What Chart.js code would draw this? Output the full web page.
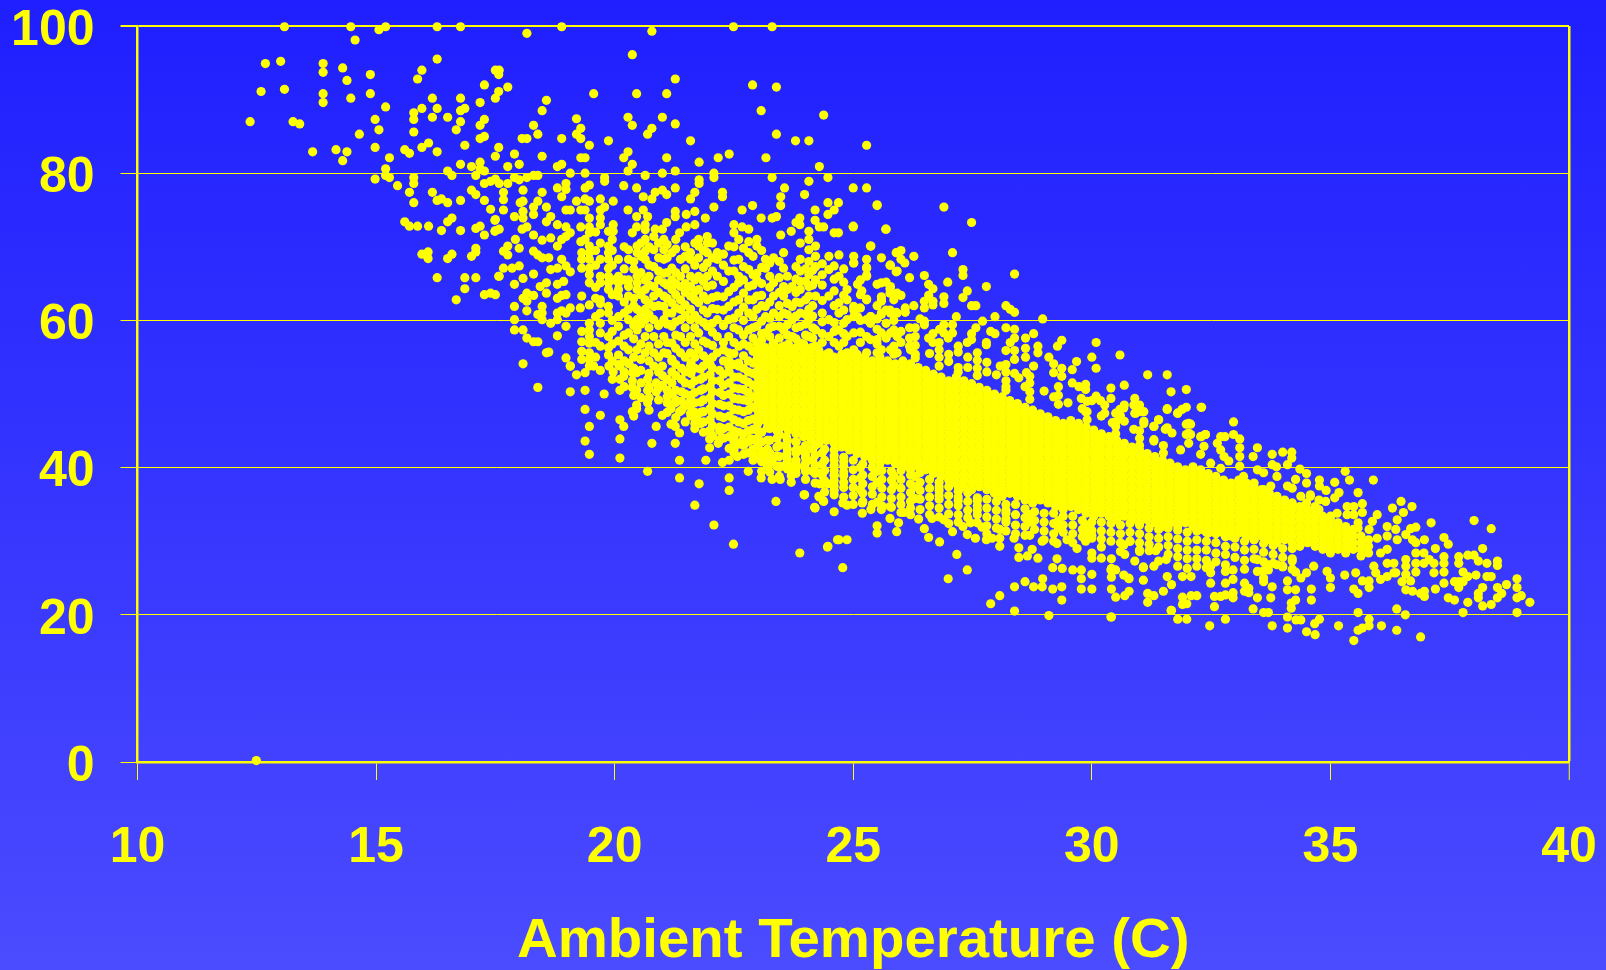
<!DOCTYPE html>
<html>
<head>
<meta charset="utf-8">
<title>Humidity vs ambient temperature</title>
<script src="https://cdn.jsdelivr.net/npm/chart.js@4/dist/chart.umd.min.js"></script>
<style>
  html, body { margin: 0; padding: 0; width: 1606px; height: 970px; overflow: hidden; background: linear-gradient(#1f1fff, #4b4bff); }
  canvas { display: block; }
</style>
</head>
<body>
<canvas id="chart" width="1606" height="970"></canvas>
<script>
const axisTitle = 'Ambient Temperature (C)';
const tempTicks = [10, 15, 20, 25, 30, 35, 40];
const humidityTicks = [0, 20, 40, 60, 80, 100];

// [temp, humidity] read one by one where the dots stand alone
const outlier = [[12.49, 0.2]];

const leftCloud = [
  [13.08,99.9],[14.47,99.9],[15.06,99.5],[15.2,99.9],[16.28,99.9],[16.77,99.9],[14.56,98.1],[12.68,94.9],[13,95.2],[13.89,94.9],[13.89,93.7],[14.3,94.3],
  [14.39,92.6],[14.88,93.4],[15.96,94],[15.87,92.8],[16.28,95.5],[12.59,91.1],[13.08,91.4],[13.89,90.8],[13.89,89.6],[14.47,90.2],[14.88,90.8],[15.2,89],
  [15.79,88.2],[15.79,87.3],[15.96,88.8],[16.18,90.2],[16.28,88.8],[16.18,87.6],[16.5,87.6],[16.77,90.2],[16.77,88.5],[16.86,88.8],[16.77,87],[16.68,85.9],
  [17.18,89.6],[17.27,92],[17.5,94],[17.57,93.4],[17.57,91.1],[17.5,90.2],[17.27,87.3],[17.18,86.5],[17.27,85],[17.18,84.7],[12.36,87],[13.26,87],[13.4,86.7],
  [14.98,87.3],[15.06,85.9],[14.65,85.3],[15.79,85.6],[13.67,82.9],[14.16,83.2],[14.39,82.9],[14.3,81.7],[14.98,83.5],[15.6,83.2],[15.7,82.7],[15.96,83.5],
  [16.1,84.1],[16.28,82.9],[16.86,83.8],[15.28,82.1],[15.2,80.6],[15.2,79.7],[15.28,79.4],[14.98,79.2],[16.77,81.2],[17,80.9],[17.18,81.5],[17.18,80.6],
  [17.27,80.3],[17.5,82.3],[17.57,83.5],[16.5,80.3],[16.59,79.7],[17.09,79.7],[15.79,79.4],[15.79,78.6],[15.45,78.3],[15.7,77.4],[16.18,77.4],[16.28,76.3],
  [16.37,76.5],[16.5,76],[15.79,76],[16.77,76.3],[17,77.7],[17.09,77.1],[17.27,78.6],[17.4,78.9],[17.5,79.2],[17.27,76.3],[17.4,75.1],[15.6,73.4],[15.7,72.8],
  [15.87,72.8],[16.1,72.8],[16.37,72.2],[16.5,73.4],[16.59,73.9],[16.77,72.2],[17.09,72.5],[17.18,72.8],[17.27,71.6],[17.5,73.7],[17.5,72.2],[15.96,69],
  [16.09,69.3],[16.09,68.4],[16.5,68.4],[16.59,69],[17,68.7],[17.09,69.8],[17.09,69.3],[16.28,65.8],[16.86,65.8],[17.09,65.8],[17.57,66],[16.86,64.3],
  [17.27,63.5],[17.4,63.7],[17.5,63.5],[16.68,62.8]
];

const upperEdge = [
  [18.89,99.9],[18.16,99],[20.78,99.3],[22.49,99.9],[23.3,99.9],[20.37,96.1],[17.58,94],[19.56,90.8],[20.46,90.8],[21.09,90.8],[21.27,92.8],[22.89,92],
  [23.39,91.7],[17.76,91.7],[18.57,89.9],[18.48,88.5],[17.9,82.6],[18.48,82.3],[18.3,86.5],[18.39,85.3],[18.06,84.7],[18.16,84.7],[18.89,84.7],[19.2,87.4],
  [19.29,86.1],[19.2,85.3],[19.29,84.7],[19.47,83.8],[19.87,84.4],[20.28,87.6],[20.37,86.5],[21,87.6],[21.27,86.7],[20.78,86.1],[20.69,85.3],[21.59,84.4],
  [23.07,88.5],[24.38,87.9],[23.39,85.3],[23.79,84.4],[24.07,84.4],[25.28,83.8],[20.28,82.9],[20.19,82.1],[19.29,82.1],[19.38,82.1],[21.09,82.1],[20.37,81.2],
  [20.28,80.3],[21.77,81.5],[22.17,82.1],[22.4,82.6],[23.17,82.1],[24.29,80.9],[18,81.2],[17.76,80.9],[18.8,80.9],[18.89,81.2],[17.9,79.4],[18,79.1],
  [18.16,79.4],[18.3,79.7],[18.39,79.7],[19.07,80],[19.38,80],[19.79,79.4],[19.79,78.9],[20.64,79.7],[21,80],[21.27,80.3],[22.08,80],[22.08,79.4],[23.3,79.4],
  [24.47,79.4],[17.58,78.6],[17.76,78.6],[18.8,78],[18.98,78.6],[18.98,77.8],[19.38,78],[19.47,78.4],[20.19,78.3],[20.46,78],[21.27,78],[21.77,79.1],[21.77,78.6],
  [24.07,78.9],[23.56,78],[25,78],[25.28,78],[18.08,77.7],[18.48,77.4],[17.67,77.4],[17.67,76.4],[17.67,75],[18.89,76.8],[20.6,76.8],[20.85,77.4],[21,77.7],
  [21.09,77.1],[20.78,76.5],[21.68,77.4],[21.59,76.5],[22.26,77.4],[22.26,76.8],[23.48,76.8],[23.48,75.6],[23.98,77.1],[18.02,76],[18.08,76.2],[18.39,76.2],
  [18.3,75.4],[18.3,74.4],[18.57,75.4],[19.2,76.2],[19.38,76.5],[19.47,76.2],[19.7,76.5],[19.97,76.2],[18.98,75],[19.07,75],[19.29,75],[19.38,75],[19.7,75],
  [19.79,75.4],[20.28,75],[20.6,75],[21.27,74.8],[21.27,74.1],[21.5,74.4],[21.68,74.8],[22.08,75.4],[22.67,75],[22.89,75.6],[24.47,76],[24.69,76],[24.47,74.4],
  [24.6,75],[24.2,75],[25.5,75.6],[17.9,74.1],[18.08,74.8],[18.08,73.9],[18.66,74.1],[18.57,73.4],[19.47,73.9],[19.7,73.9],[19.7,73],[20.46,74.1],[20.69,74.1],
  [23.07,73.9],[23.3,73.9],[23.39,74.1],[21.9,73.9],[23.8,73.3],[23.88,73.9],[23.88,73],[24.2,73.6],[24.29,72.7],[24.38,72.7],[25,72.7],[24.6,71.9],[24.69,71.9],
  [25.68,72.4],[17.49,73.6],[17.49,72.1],[17.58,72.4],[18.06,72.4],[18.16,72.7],[18.3,71.6],[18.8,73],[18.98,72.7],[19.07,71.9],[18.98,71.4],[18.89,71],
  [19.29,72.7],[19.47,72.7],[19.47,71.9],[19.38,71],[19.29,70.7],[19.87,72.1],[19.97,73],[19.97,72.1],[20.37,71.9],[20.46,72.7],[20.64,73],[20.85,72.4],[21,72.4],
  [21.09,73.3],[21.36,71.9],[21.5,72.7],[21.68,73],[22.5,73],[22.5,71.9],[22.67,72.7],[22.81,72.4],[23.48,71.6],[23.7,72.1],[24.07,72.1],[24.07,71],
  [17.92,71],[18,69.8],[17.76,70.1],[17.67,69.4],[17.76,68.9],[18.3,69.4],[18.39,68.9],[18.48,68.5],[18.62,68.5],[18.48,70.9],[18.66,71.2],[18.8,70.1],
  [17.67,67.1],[17.85,67.1],[18,67.4],[17.58,66],[18.08,65.7],[18.3,66.3],[17.9,64.9],[18.89,68.3],[18.98,67.4],[18.8,67.1],[18.66,66.9],[19.07,66.6],[18.93,65.3],
  [18.8,64.9],[18.57,65.1],[18.44,64.6],[18.3,63.4],[18.16,63.7],[18.08,63],[18.16,62.6],[18.8,63],[18.89,63.4],[18.98,63.5],[18.57,63.7],[17.9,61.9],[18.16,61.3],
  [18.48,61.9],[18.48,61],[18.39,60.8],[18.48,60.1],[18.8,61],[18.89,61.3],[18.98,61],[18.8,60.1],[18.98,59.2],[19.07,61.7],[19.28,61.7],[17.9,60.1],[17.9,58.7],
  [18.08,58.7],[18.16,57.6],[18.3,57.1],[18.39,57.1],[18.66,59.6],[18.8,57.9],[18.62,55.7],[18.57,55.6],[18.98,54.9],[18.08,54.1],[19.07,53.8]
];

// columns where the dots stack up: [temp, humidity, humidity, ...]
const upperColumns = [
  [19.31,69.2,68.3,67.1,63.3,58.5,57.1,55.8,54.7],[19.47,70.1,69.2,68.3,67.1,66.2,65.1,62.1,59.6,58.7,57.8,56.9,55.6,54.7,53.8],
  [19.7,70.5,68.3,66,65.1,62.8,62.3,61,59.6,58.3,56.5],[19.87,70.1,69.2,68.3,67.1,66,65.1,64.2,61.9,61,57.8,56.3,55.3],[20.08,68.3,66,65.1,64.2,63.3,60.5,59.2,57.2,55.3,54],
  [20.29,69.6,68.3,65.5,64.6,63.3,61.5,60.1,58.3,56,54.2],[20.47,70.1,69.2,66,65.1,64.2,61.5,60.1,58.7,56],[20.64,72.3,71,69.4,68.3,65.5,64.2,62.8,61.5,60.1,57.8,55.6],
  [20.82,71.4,69.6,67.3,64.6,63.3,61.9,60.1,57.8,55.6,53.8],[21.03,71,69.6,68.3,66.4,65.1,63.3,61.9,60.1,57.8,55.6],[21.2,69.2,67.1,65.5,64.2,62.4,61,59.2,56.9,54.7],
  [21.38,68.3,66,64.6,62.8,61.5,60.1,57.8,55.6],[21.59,69.2,68.3,66,64.6,63.3,61.5,60.1,57.8,55.6,53.8],[21.76,71,70.1,68.5,66,64.2,62.4,60.1,58.3,56],
  [21.94,71.4,70.5,69.2,67.8,66,64.6,62.8,61,59.2,56.9,54.7],[22.15,69.2,68.3,66,63.3,61.5,60.1,57.8,55.6],[22.39,70.1,66.7,63.9,61.9,60.1,57.8,55.6,53.8],
  [22.6,71,68.3,66,65.1,62.8,61,58.7,56.5,54.2],[22.81,70.7,69.2,66.9,64.6,62.8,61,58.7,56.5],[22.98,71,70.1,66.4,65.5,63.3,61.5,59.2,56.9,54.7],[23.16,68.3,67.1,61.9,60.5,58.3,56],
  [23.33,68.5,65.1,63.3,61,59.2,56.9,54.7],[23.54,69.2,67.1,64.6,63.3,61,58.7,56.5],[23.72,64.6,61.9,60.1,57.8,55.6],[23.89,70.5,68.3,66.7,65.3,64.2,62.4,61,59.2,56.9,54.7],
  [24.07,69.6,68,66.2,64.6,63.3,61.5,60.1,57.8,55.6],[24.21,70.1,68.7,67.3,65.5,63.3,58.7,56.5],[24.49,68.7,66.9,63.3,60.1,57.8,55.6],[24.7,68.9,66,62.4,61,58.7,56.5],
  [24.87,64.2,62.8,60.1,57.8,55.6],[25.01,68.7,67.8,61.9,60.5,58.3,56],[25.28,68.3,67.1,66,62.8,60.1,57.8,55.6],[25.36,70.1,60.5,59.6,57.4],[25.59,68.5,65.1,62.8,61,58.3,56],
  [25.78,67.5,64.6,61,58.3,56],[25.92,69.2,66.7,63.7,61,57.8,55.6]
];

// second pass over the crowded middle and the rim of the solid band
const midColumns = [
  [19.6,72,69.5,67.5,64.5,63,60.5,57,55],[19.95,71,69.5,67.5,65.5,63.5,60,58.5,56.8,54.5,52],[20.2,70,67,65.5,62.5,61,58,56.5,54.5,53,51],[20.4,68,67,63,62,59.3,57.5,55,53.5,49.8,47],
  [20.55,70.5,68.7,66.5,63.5,61,59.5,56.8,54.7,53.2,51.5,49.5],[20.72,70,67.5,66,64.8,62.3,60.8,59,56.5,54.5,52.8,51,49.5,47.8],[20.92,70.5,68.5,66.7,65.5,63.8,62,59.3,56.8,55,53,50.8,49.2],
  [21.1,70.3,68.5,66.5,64.8,63,61,59.5,57,55.5,52,49.6,47.5],[21.28,71,69.7,66.5,65,63.5,61.7,59.8,58,56.2,54,52.5,50.5,49.2,46.8],[21.48,70,68.7,67,65,63.8,62.1,60.7,59,57,55,53,51.5,50,48.4,46.2],
  [21.68,70.5,67.5,65.5,63.9,62.8,60.7,59,56.8,55,53.5,51.8,50.2,48.8,47.5,46],[21.86,69.5,67.2,65.3,63.3,61.4,59.7,57.2,55.2,53.8,52.3,50.7,49.2,47.6,46.2,44.8],
  [22.05,70.5,68.5,66.7,64.8,63.1,61.6,59.6,58.4,56.6,55,53.5,51.8,50.3,48.7,47.3,45.7,44.3],[22.28,69,67.5,65.3,63.2,61.4,59.3,57,56,54.5,52.7,51.2,49.8,48.4,46.8,45.3,44],
  [22.5,70,68.2,66.7,64.5,62.5,60.3,59,57,55.5,54,52.3,50.8,49.4,47.9,46.5,45,43.5,42],[22.7,69.8,67.3,65.5,63.7,61.8,60,58,56.8,55.2,53.5,52,50.6,49.2,47.6,46,44.6,43,41.8],
  [22.9,68.7,66.2,64.8,62.8,60.5,59,57.6,55.8,54.2,52.8,51.2,49.6,48.2,46.6,45.2,43.8,42.5,41],[23.08,69.5,67.2,65,63.4,62,59.9,58.2,57.3,44.8,43.5,42.2,40.8,39.5],
  [23.25,67.8,66,64.5,62.5,60.3,59,57.8,45.3,43.7,42,40.7,39.4],[23.45,68,65.8,63.8,62,60.5,59.2,57.6,44.5,43,41.5,40,38.8],[23.62,66,64.2,62.3,60.8,59.4,58,43.7,42.5,41.1,39.8],
  [23.8,67.3,65.6,63.8,62.5,60.6,59,57.5,43.5,42,40.5,39.2],[24,67,65.3,62.8,60.8,59.5,58,42.8,41.3,39.8],[24.15,66.8,64.8,62,60.6,59,57.6,42.5,41,39.5],
  [24.35,67.7,66.2,64.8,62.7,61,59.8,58.2,57,42,40.5,39,37.8],[24.6,67.4,65.6,64,62,59.7,58.5,57,41,39.6,38.2],[24.8,67,65.2,63.4,61.4,59.6,58.2,57,40.8,39.4,38],
  [25.15,65.5,63.5,61.7,60,58.4,57,40,38.6,37],[25.5,62,60.2,56.8,55.6,39.5,38],[25.85,62.8,60,58.7,56.5,55.4,38.9,37.6],[26.3,59,57.8,56.6,55.4,54.9,38.8,37.4,35.8],
  [26.8,57,56,55,53.8,37.4,36.2],[27.2,56.5,55.7,53.6,53,36.8,35.5],[27.6,55.6,54.6,53.5,52.5,35.5,34.2],[28.2,54,53,51,50.5,34.2,33],[28.7,51.5,50.3,49.3,33.6,32.6],
  [29.3,51,49.8,48.6,32.8,31.8],[29.9,49,47.6,46.5,32.2,31],[30.5,47.4,45.6,44.6],[31,45,44,43],[31.5,43,42]
];

const upperRight = [
  [25.5,75.7],[26.9,75.4],[27.48,73.3],[25.69,72.4],[25,72.8],[25.37,70.1],[25.9,69.2],[26,69.5],[26,68.3],[26.08,67.8],[26.27,68.7],[27.08,69.2],[25.01,67.8],
  [25.77,67.5],[25.9,66.6],[25.28,67.2],[25.28,66.1],[27.3,66.9],[27.3,66.1],[28.38,66.3],[26.18,65.8],[26.49,66.1],[26.98,65.2],[26.58,64.9],[26.67,64.3],[27.79,64.6],
  [25.09,64.9],[25.18,64],[25.28,62.9],[25.5,64.9],[25.69,65.2],[25.77,64.3],[25.77,63.7],[25.59,63.2],[25.59,62.6],[26,63.4],[26.58,63.4],[26.49,62.6],[26.49,61.7],
  [26.67,62.6],[26.67,62.1],[26.9,63.2],[26.9,62.3],[27.39,64],[27.3,63.1],[27.48,62],[27.57,62],[26.27,62],[26.09,61.7],[26.09,61.1],[28.2,62],[28.29,61.5],[28.38,61.1],
  [28.97,60.2],[27.97,60.5],[27.71,59.9],[27.16,60.5],[25.01,61.4],[25.09,60.5],[25.37,60.5],[25.37,59.9],[25.59,60.8],[25.69,61.4],[25.77,61.4],[25.9,61.1],[25.69,59.6],
  [26.4,60.2],[26.49,59.9],[26.49,59.4],[26.18,59],[27.08,59.4],[26.9,59.4],[26.81,58.8],[27.08,58.3],[26.99,57.6],[26.9,58.3],[27.57,59],[27.48,58.2],[27.39,57],[27.48,57.4],
  [26.67,58.2],[26.58,57.6],[26.67,57],[25.9,58.2],[26,58.5],[26,57],[26.18,57.6],[26.18,56.5],[25.5,58.8],[25.5,57.4],[25.69,57.6],[27.79,57],[27.79,56.7],[27.88,58.5],[27.97,58.2],
  [28.2,59],[28.38,58.8],[28.38,57.6],[28.29,57],[28.2,55.9],[28.38,55.9],[28.38,54.7],[28.61,57.6],[28.61,56.2],[28.61,55],[28.78,58.2],[28.87,56.5],[28.87,55.6],[29.28,56.5],
  [29.37,57.3],[30.09,57],[29.1,55],[29.2,54.1],[29.2,52.9],[30,55],[30.09,53.5],[30.59,55.3],[29.68,54.4],[29.37,53.5],[29.37,52.4],[29.59,53.3],[28.78,53.8],[28.63,52.9],
  [28.7,52.4],[28.38,52.8],[28.47,52.2],[28.2,51.8],[28.08,53.8],[31.17,52.6],[31.58,52.6],[30.68,51.2],[31.66,50.3],[31.98,50.6],[29.59,51.5],[29.73,51],[29.87,51.3],[29.87,50.6],
  [30.4,50.8],[30.4,49.4],[29.78,49.4],[30,49.1],[30.09,49.7],[30.18,49.1],[30.27,48.5],[30.9,49.4],[31,48.5],[30.9,47.4],[31.09,47.6],[31.09,46.3],[30.68,48.5],[30.59,47.9],
  [30.68,46.3],[31.58,47.9],[31.8,47.4],[31.89,47.9],[31.98,48.2],[32.29,48.2],[29.87,47.6],[30.27,47.4],[31.4,46.5],[31.3,45.6],[31.58,45.4],[31.3,43.6],[31.98,45.9],[32.07,45.9],
  [31.98,44.5],[32.07,44.5],[32.97,46.2],[32.97,44.5],[33.1,43.9],[32.29,44.2],[32.38,44.5],[32.7,44.2],[32.79,44.2],[26.2,56],[26.6,55.5],[27,55.4],[27,54.4],[27.4,55],[27.4,53.6],
  [27.8,54.3],[27.8,53],[28,52.6],[28.6,51],[29,50.4],[29.2,49.6],[29.5,48.8],[29.8,48],[30.2,47],[30.5,46.2]
];

const lowerLeft = [
  [18.39,50.9],[19.07,53.8],[19.2,52.6],[19.38,52.9],[19.07,50.3],[19.38,50.5],[19.78,50],[20.11,50.5],[19.38,47.9],[19.7,47.1],[20.11,46.5],[20.19,45.6],[19.47,45.6],[19.38,43.6],
  [20.11,43.9],[19.47,41.8],[20.11,41.3],[20.78,43.3],[21.27,43.3],[20.87,45.6],[20.69,39.5],[21.36,41],[21.36,38.6],[21.77,37.8],[21.91,41],[22.26,40.7],[22.4,41],[22.57,41.5],
  [22.5,42.4],[22.4,38.6],[22.4,36.9],[22.8,39.5],[21.68,34.9],[22.08,32.2],[22.49,29.6],[23.38,35.4],[23.07,38.6],[23.3,38.4],[23.47,38.4],[23.7,38],[23.97,36.3],[24.29,36],
  [24.38,35.4],[24.2,34.5],[24.6,36.9],[24.6,34],[23.88,28.4],[24.47,29.3],[24.67,30.2],[24.29,37.8],[24.38,38],[24.47,37.8],[19.56,53.8],[19.7,53.2],[19.88,53.8],[19.97,53],
  [20.11,53.8],[20.3,54.1],[20.11,52],[20.19,52.4],[20.37,51.8],[20.37,52.9],[20.46,52.9],[20.37,50.9],[20.46,50.5],[20.69,52],[20.87,51.5],[20.69,50.5],[20.87,50.3],[20.46,48.5],
  [20.37,47.6],[20.46,48],[20.69,48.8],[21,47.1],[21.18,45.9],[21.27,45.6],[21.36,44.7],[21.1,50.5],[21.1,48.8],[21.18,48],[21.36,47.6],[21.27,48.8],[21.59,49.1],[21.59,47.4],
  [21.73,46.5],[21.68,45.3],[21.99,43.9],[21.99,42.7],[22.17,43.3],[21.99,45],[22.2,45],[22.5,44.2],[22.67,43.6],[22.85,43.9],[22.9,41.8],[23.09,41.5],[23.3,41],[23.47,40.2],
  [23.7,40.2],[23.79,39.3],[23.7,38.9],[23.61,41.8],[23.88,42.4],[23.97,40.2],[24.29,39.3],[24.6,38.9]
];

const leftColumns = [
  [21,53.8,52.5,51.2],[21.2,54.5,53,51.5,50],[21.4,53.5,52,50.3,49,47.8],[21.6,54.2,52.8,51.3,49.8,48.5,47],[21.8,53.4,52,50.5,48.9,47.5,46],[22,54,52.6,51,49.5,48,46.5,45],
  [22.2,53.2,51.8,50.2,48.6,47,45.5,43.8],[22.4,54.5,53,51.5,50,48.4,47,45.5,44.2,42.6],[22.6,53.8,52.3,50.7,49.3,47.8,46.2,44.8,43.2],[22.8,54.5,53,51.6,50.2,49,47.8,46.4,45,43.5,42]
];

const lowerEdge = [
  [23.98,36.3],[24.28,36.1],[24.37,35.5],[24.19,34.6],[24.78,35.2],[24.87,34.9],[25.19,35.2],[25.19,33.8],[25.37,34.3],[25.5,35.3],[25.59,34.3],[25.77,34.7],[25.77,33.1],[25.95,32.5],
  [25.91,31.3],[25.5,32.1],[25.5,31.1],[24.7,30.2],[24.87,30.2],[24.46,29.2],[24.78,26.4],[26.49,31.7],[26.58,30.5],[26.81,29.9],[27.17,28.2],[27.39,26.1],[26.99,24.9],[26.37,33],
  [26.2,33.6],[26.06,33.9],[26.65,33.1],[26.9,32.9],[27.08,31.3],[27.3,32],[27.46,32.5],[27.39,30.9],[27.56,30.4],[27.7,31.9],[27.79,30.2],[27.91,30.4],[28.07,31.6],[28.07,30.4],
  [28.07,29.3],[28.37,30.4],[28.47,29.1],[28.47,27.8],[28.7,30.8],[28.65,28],[28.87,27.7],[28.96,30],[28.75,28.9],[29.27,29.7],[29.27,27.6],[29.18,26.4],[29.38,26.3],[29.48,30.2],
  [29.69,29],[29.87,30],[30,30.8],[29.6,26.1],[29.78,26.1],[29.78,24.9],[30,25.5],[29.78,23.5],[30,23.5],[28.6,24.5],[28.97,24.9],[28.78,23.8],[28.96,23.8],[29.18,23.5],[29.37,23.8],
  [28.38,23.8],[28.07,22.6],[27.88,21.5],[28.38,20.5],[29.1,19.9],[29.37,22],[30.41,19.7],[30,28.4],[30,27.7],[30.2,27.7],[30.41,27.6],[30.69,28.2],[30.9,27.3],[30.41,26.3],[30.5,26.1],
  [30.41,25.1],[30.67,25.4],[30.78,24.9],[31.08,26.4],[31.08,24.7],[30.41,23.5],[30.5,22.4],[30.69,22.6],[30.78,23.2],[31.17,22.9],[31.17,21.7],[31.3,22.6],[31.5,23.2],[31.67,24.1],
  [31.58,25.2],[31.9,25.2],[32.08,25.2],[31.67,20.6],[31.9,22.4],[31.9,21.4],[31.99,21.5],[31.8,19.4],[31.99,19.4],[32.08,22.6],[32.2,22.6],[31.3,26.6],[31.4,27.3],[31.56,27.5],[31.8,26.6],
  [32,26.3],[31,28.6],[31.2,28.7],[31.34,28.7],[30.67,29.5],[30.8,30]
];

const lowerColumns = [
  [23,45,44,43,41.5],[23.2,45.4,43.7,42.5,41.2,40.3],[23.4,45,44,42.8,41.6,40.2],[23.6,44.2,43,41.7,40.5],[23.8,43.5,42.4,41,39.8],[24,43,41.8,40.6,39.5,38.4],[24.2,43,41.7,40.3,39.2,37.9],
  [24.4,42.5,41,39.6,38.2,36.7],[24.6,41.6,40.3,39,37.5,36.3],[24.8,41.4,40.2,38.9,37.3,36],[25,41,39.7,38.4,37.3,36.2,35],[25.2,40.5,39,37.8,36.5,35.4],[25.4,40,38.8,37.4,36.4,35],
  [25.6,39.6,38.4,37.2,36,34.8],[25.8,39.5,38.3,37,35.8,34.6],[26,39.6,38.4,37.2,36,35,33.9],[26.2,39,37.8,36.6,35.4,34.5],[26.4,39.3,38,36.9,35.7,34.3],[26.6,38.4,37.2,36,34.8,33.6],
  [26.8,38,36.9,35.7,34.5,33.3],[27,37.4,36.2,35,33.7,32.4],[27.2,37.4,36,34.8,33.6,32.6],[27.4,36.6,35.4,34.2,33.2],[27.6,35.9,34.8,33.6,32.5],[27.8,35.7,34.5,33.3,32.1,31],[28,35.4,34.2,33,31.8],
  [28.2,35,33.8,32.6,31.4],[28.4,35,33.6,32.2,31],[28.6,34.4,33.2,32,30.8],[28.8,34,32.8,31.6],[29,33.8,32.6,31.4,30.2],[29.2,33.8,32.4,31,30],[29.4,33.4,32.2,31.2],[29.6,33.4,32.2,31,29.8],
  [29.8,32.8,31.6,30.6],[30,32.6,31.5,30.4],[30.2,32.6,31.4,30.3,29.2],[30.4,32.4,31.2,30],[30.6,32.2,31,29.8,28.6],[30.8,32.4,31.2,30],[31,32.2,31,29.8,28.8],[31.2,31.8,30.6,29.6],[31.4,31.6,30.4,29.2],
  [31.6,31.8,30.6,29.4,28.2],[31.8,31.5,30.3,29,27.9],[32,31.2,30,28.8,27.6],[32.2,31.4,30.2,28.8,27.6,26.6],[32.4,31.2,30,28.8,27.4,26.4],[32.6,31,29.8,28.4,27.2],[32.8,30.6,29.3,28.2,26.8],
  [33,30.4,29.2,27.8],[33.2,30,28.8,27.4,26.2],[33.4,30.2,28.9,27.6],[33.6,29.7,28.5,27.2,26],[33.8,29.4,28.2,27],[34,29,27.8,26.5],[34.2,29,27.6,26.2]
];

const rightTail = [
  [38.01,32.8],[38.37,31.7],[37.11,32.5],[36.48,35.4],[36.3,34.5],[36.71,34.7],[36.53,33.9],[35.9,38.3],[35.31,39.5],[35.4,38.3],[35.09,38],[34.77,38.3],[34.77,37.5],[34.91,36.9],[35.58,36.6],
  [35.18,36.6],[35.09,35.9],[35.67,35.1],[35.67,33.9],[37.38,30.5],[37.47,29.6],[37.2,29],[36.97,30.2],[36.79,31.9],[36.68,31.7],[38.19,29],[37.38,27.9],[37.38,27],[37.38,25.8],[37.69,27.9],[37.69,27],
  [37.88,28.1],[38.01,28.1],[38.1,27.3],[38.28,27],[38.5,27.3],[38.5,26.7],[38.28,25.2],[38.37,25.2],[38.05,25.4],[37.78,25.8],[37.88,25.2],[37.69,24.5],[37.6,24.5],[37.78,24.5],[37.69,23.7],[37.38,24.3],
  [37.2,23.5],[38.91,24.9],[38.91,23.7],[38.69,24.1],[38.5,23.7],[38.59,22.9],[38.5,22.3],[38.19,23.7],[38.1,22.9],[38.1,22.3],[39,22.6],[38.91,22.3],[39.18,21.7],[37.47,22.3],[37.6,22],[37.88,21.7],
  [38.19,21.2],[38.37,21.4],[37.78,20.3],[38.91,20.3],[36.39,20.8],[36.57,20],[35.58,20.3],[35.81,19.4],[35.58,17.9],[35.67,18.2],[35.81,18.5],[35.49,16.5],[36.07,18.5],[36.39,17.9],[36.89,17],[35.17,18.5],
  [34.77,19.4],[34.67,18.8],[34.5,17.7],[34.68,17.3],[34.1,19.7],[34.1,18.2],[33.78,18.5],[34.28,19.3],[34.38,19.3],[33.6,20.3],[33.7,20.3],[33.38,20.8],[33.47,22.3],[33.75,22.3],[32.8,19.4],[32.47,18.5],
  [31.66,20.6],[30.4,19.7],[34.6,22],[34.6,23.5],[35,23.7],[35.49,23.5],[35.58,22.9],[35.81,23.7],[35.67,24.6],[35.81,24.6],[32.3,48.2],[31.8,47.4],[31.58,48],[33.1,42.7],[33.47,42.7],[33.78,41.8],
  [33.38,41.5],[34,42.1],[34.19,42.1],[34.19,41.3],[34.1,40.4],[33.1,41.5],[33.78,40.4],[33.87,40.1],[34.36,39.8],[34.5,39.2],[30.4,26.1],[30.77,25],[31.08,26.5],[32.49,26.6],[32.49,25.7],[32.49,24.3],
  [32.57,22.5],[32.7,22.5],[32.8,22.7],[32.57,21.1],[32.8,25.9],[32.8,24.3],[32.96,26.1],[32.96,24.8],[32.96,23],[32.96,22.3],[33.2,24.3],[33.29,23.6],[33.2,23.2],[33.29,23],[33.47,27.5],[33.47,25.9],
  [33.6,25],[33.6,24.5],[33.78,23.8],[33.7,26.8],[33.7,26.1],[33.88,26.8],[34,26.6],[34.2,27.3],[34.1,24.6],[34.1,23.4],[34.27,23.4],[34.27,25.8],[34.38,25],[34.18,20.9],[34.27,22],[34.18,21.6],[35,25],
  [34.93,25.9],[35.3,25.4],[35.53,25.7],[34.5,25.7],[34.65,26.6],[36.05,24.8],[36.19,25.2],[36.37,25.7],[36.5,24.5],[36.68,24.6],[36.58,23.4],[36.72,23.2],[36.89,22.9],[36.97,23.2],[36.97,22.5],[36.58,27.5],
  [36.58,26.6],[36.58,25.5],[36.79,25.8],[36.79,27],[36.79,28.4],[36.96,28.4],[36.96,27],[37.17,27],[37.17,25.7],[37.07,27.5],[36.05,28.4],[36.19,28.9],[36.33,27],[36.19,27],[36.33,25.7],[35.91,26.6],[35.95,25.7],
  [35.98,30.4],[36.19,32],[36.4,32.9],[36.37,31.6],[36.19,30.7],[36.4,30.2],[36.58,30.9],[36.72,30.2],[36.79,29.8],[35.98,33.6],[35.88,32.7],[35.81,31.6],[35.58,32.5],[35.58,31.8],[35.35,34.7],[35.49,34.7],
  [35.35,33.6],[35.49,33.6],[35.14,33.8],[35,33.4],[34.76,35.6],[34.76,34.3],[34.9,35.4],[34.5,35.2],[34.58,36.1],[33.88,38.8],[34.1,37.5],[34.2,37.2],[34.27,38.4],[34.5,37.9],[34.58,36.3],[34.38,36.1],[33.75,37.5],
  [33.6,37],[33.47,39.7],[33.6,39.3],[33.1,40.2],[33.18,38.8],[33.4,37.9],[32.63,43.3],[32.7,42.4],[32.77,41.5],[32.87,40.9],[32.7,39.9],[32.28,44.2],[32.38,44.5],[32.35,42.9],[32.28,41.8],[32.49,40.6],
  [32.03,46],[32.03,44.7],[32.03,43.3],[31.86,42.4],[31.68,44.7],[31.54,45.2],[31.3,45.6],[31.4,46.5],[31.3,43.8],[30.88,48.5],[30.92,47.4],[31.05,47.6],[30.67,48.1],[30.6,47],[31.09,46],[30.88,45.2],[30.43,46.1]
];

// the solid band, where single dots can no longer be told apart
const coreColumns = [
  [23,46,46.9,47.8,48.7,49.6,50.5,51.4,52.3,53.2,54.1,55,55.9,56.8],
  [23.16,46.4,47.3,48.2,49.1,50,50.9,51.8,52.7,53.6,54.5,55.4,56.3],
  [23.32,46,46.9,47.8,48.7,49.6,50.5,51.4,52.3,53.2,54.1,55,55.9,56.8],
  [23.48,45.5,46.4,47.3,48.2,49.1,50,50.9,51.8,52.7,53.6,54.5,55.4,56.3],
  [23.64,45.1,46,46.9,47.8,48.7,49.6,50.5,51.4,52.3,53.2,54.1,55,55.9,56.8],
  [23.8,44.6,45.5,46.4,47.3,48.2,49.1,50,50.9,51.8,52.7,53.6,54.5,55.4,56.3],
  [23.96,44.2,45.1,46,46.9,47.8,48.7,49.6,50.5,51.4,52.3,53.2,54.1,55,55.9,56.8],
  [24.12,43.7,44.6,45.5,46.4,47.3,48.2,49.1,50,50.9,51.8,52.7,53.6,54.5,55.4,56.3],
  [24.28,43.3,44.2,45.1,46,46.9,47.8,48.7,49.6,50.5,51.4,52.3,53.2,54.1,55,55.9],
  [24.44,43.7,44.6,45.5,46.4,47.3,48.2,49.1,50,50.9,51.8,52.7,53.6,54.5,55.4],
  [24.6,42.4,43.3,44.2,45.1,46,46.9,47.8,48.7,49.6,50.5,51.4,52.3,53.2,54.1,55],
  [24.76,42.8,43.7,44.6,45.5,46.4,47.3,48.2,49.1,50,50.9,51.8,52.7,53.6,54.5,55.4],
  [24.92,42.4,43.3,44.2,45.1,46,46.9,47.8,48.7,49.6,50.5,51.4,52.3,53.2,54.1,55],
  [25.08,41.9,42.8,43.7,44.6,45.5,46.4,47.3,48.2,49.1,50,50.9,51.8,52.7,53.6,54.5,55.4],
  [25.24,41.5,42.4,43.3,44.2,45.1,46,46.9,47.8,48.7,49.6,50.5,51.4,52.3,53.2,54.1,55],
  [25.4,41,41.9,42.8,43.7,44.6,45.5,46.4,47.3,48.2,49.1,50,50.9,51.8,52.7,53.6,54.5],
  [25.56,40.6,41.5,42.4,43.3,44.2,45.1,46,46.9,47.8,48.7,49.6,50.5,51.4,52.3,53.2,54.1,55],
  [25.72,41,41.9,42.8,43.7,44.6,45.5,46.4,47.3,48.2,49.1,50,50.9,51.8,52.7,53.6,54.5],
  [25.88,40.6,41.5,42.4,43.3,44.2,45.1,46,46.9,47.8,48.7,49.6,50.5,51.4,52.3,53.2,54.1],
  [26.04,40.1,41,41.9,42.8,43.7,44.6,45.5,46.4,47.3,48.2,49.1,50,50.9,51.8,52.7,53.6,54.5],
  [26.2,39.7,40.6,41.5,42.4,43.3,44.2,45.1,46,46.9,47.8,48.7,49.6,50.5,51.4,52.3,53.2,54.1],
  [26.36,40.1,41,41.9,42.8,43.7,44.6,45.5,46.4,47.3,48.2,49.1,50,50.9,51.8,52.7,53.6],
  [26.52,39.7,40.6,41.5,42.4,43.3,44.2,45.1,46,46.9,47.8,48.7,49.6,50.5,51.4,52.3,53.2],
  [26.68,39.2,40.1,41,41.9,42.8,43.7,44.6,45.5,46.4,47.3,48.2,49.1,50,50.9,51.8,52.7],
  [26.84,38.8,39.7,40.6,41.5,42.4,43.3,44.2,45.1,46,46.9,47.8,48.7,49.6,50.5,51.4,52.3],
  [27,38.3,39.2,40.1,41,41.9,42.8,43.7,44.6,45.5,46.4,47.3,48.2,49.1,50,50.9,51.8],
  [27.16,37.9,38.8,39.7,40.6,41.5,42.4,43.3,44.2,45.1,46,46.9,47.8,48.7,49.6,50.5,51.4,52.3],
  [27.32,37.4,38.3,39.2,40.1,41,41.9,42.8,43.7,44.6,45.5,46.4,47.3,48.2,49.1,50,50.9,51.8],
  [27.48,37,37.9,38.8,39.7,40.6,41.5,42.4,43.3,44.2,45.1,46,46.9,47.8,48.7,49.6,50.5,51.4],
  [27.64,37.4,38.3,39.2,40.1,41,41.9,42.8,43.7,44.6,45.5,46.4,47.3,48.2,49.1,50,50.9],
  [27.8,37,37.9,38.8,39.7,40.6,41.5,42.4,43.3,44.2,45.1,46,46.9,47.8,48.7,49.6,50.5],
  [27.96,36.5,37.4,38.3,39.2,40.1,41,41.9,42.8,43.7,44.6,45.5,46.4,47.3,48.2,49.1,50],
  [28.12,36.1,37,37.9,38.8,39.7,40.6,41.5,42.4,43.3,44.2,45.1,46,46.9,47.8,48.7,49.6],
  [28.28,36.5,37.4,38.3,39.2,40.1,41,41.9,42.8,43.7,44.6,45.5,46.4,47.3,48.2,49.1],
  [28.44,36.1,37,37.9,38.8,39.7,40.6,41.5,42.4,43.3,44.2,45.1,46,46.9,47.8,48.7],
  [28.6,35.6,36.5,37.4,38.3,39.2,40.1,41,41.9,42.8,43.7,44.6,45.5,46.4,47.3,48.2],
  [28.76,35.2,36.1,37,37.9,38.8,39.7,40.6,41.5,42.4,43.3,44.2,45.1,46,46.9,47.8],
  [28.92,35.6,36.5,37.4,38.3,39.2,40.1,41,41.9,42.8,43.7,44.6,45.5,46.4,47.3],
  [29.08,35.2,36.1,37,37.9,38.8,39.7,40.6,41.5,42.4,43.3,44.2,45.1,46,46.9],
  [29.24,34.7,35.6,36.5,37.4,38.3,39.2,40.1,41,41.9,42.8,43.7,44.6,45.5,46.4],
  [29.4,34.3,35.2,36.1,37,37.9,38.8,39.7,40.6,41.5,42.4,43.3,44.2,45.1,46],
  [29.56,34.7,35.6,36.5,37.4,38.3,39.2,40.1,41,41.9,42.8,43.7,44.6,45.5,46.4],
  [29.72,34.3,35.2,36.1,37,37.9,38.8,39.7,40.6,41.5,42.4,43.3,44.2,45.1,46],
  [29.88,33.8,34.7,35.6,36.5,37.4,38.3,39.2,40.1,41,41.9,42.8,43.7,44.6,45.5],
  [30.04,33.4,34.3,35.2,36.1,37,37.9,38.8,39.7,40.6,41.5,42.4,43.3,44.2,45.1],
  [30.2,33.8,34.7,35.6,36.5,37.4,38.3,39.2,40.1,41,41.9,42.8,43.7,44.6],
  [30.36,33.4,34.3,35.2,36.1,37,37.9,38.8,39.7,40.6,41.5,42.4,43.3,44.2],
  [30.52,32.9,33.8,34.7,35.6,36.5,37.4,38.3,39.2,40.1,41,41.9,42.8,43.7],
  [30.68,33.4,34.3,35.2,36.1,37,37.9,38.8,39.7,40.6,41.5,42.4,43.3],
  [30.84,32.9,33.8,34.7,35.6,36.5,37.4,38.3,39.2,40.1,41,41.9,42.8],
  [31,32.5,33.4,34.3,35.2,36.1,37,37.9,38.8,39.7,40.6,41.5,42.4],
  [31.16,32.9,33.8,34.7,35.6,36.5,37.4,38.3,39.2,40.1,41,41.9],
  [31.32,32.5,33.4,34.3,35.2,36.1,37,37.9,38.8,39.7,40.6,41.5],
  [31.48,32,32.9,33.8,34.7,35.6,36.5,37.4,38.3,39.2,40.1,41],
  [31.64,32.5,33.4,34.3,35.2,36.1,37,37.9,38.8,39.7,40.6],
  [31.8,32,32.9,33.8,34.7,35.6,36.5,37.4,38.3,39.2,40.1],
  [31.96,32.5,33.4,34.3,35.2,36.1,37,37.9,38.8,39.7],
  [32.12,32,32.9,33.8,34.7,35.6,36.5,37.4,38.3,39.2,40.1],
  [32.28,31.6,32.5,33.4,34.3,35.2,36.1,37,37.9,38.8,39.7],
  [32.44,31.1,32,32.9,33.8,34.7,35.6,36.5,37.4,38.3,39.2],
  [32.6,31.6,32.5,33.4,34.3,35.2,36.1,37,37.9,38.8],
  [32.76,31.1,32,32.9,33.8,34.7,35.6,36.5,37.4,38.3],
  [32.92,30.7,31.6,32.5,33.4,34.3,35.2,36.1,37,37.9],
  [33.08,31.1,32,32.9,33.8,34.7,35.6,36.5,37.4,38.3],
  [33.24,30.7,31.6,32.5,33.4,34.3,35.2,36.1,37,37.9],
  [33.4,30.2,31.1,32,32.9,33.8,34.7,35.6,36.5,37.4],
  [33.56,30.7,31.6,32.5,33.4,34.3,35.2,36.1,37],
  [33.72,30.2,31.1,32,32.9,33.8,34.7,35.6,36.5],
  [33.88,29.8,30.7,31.6,32.5,33.4,34.3,35.2,36.1],
  [34.04,30.2,31.1,32,32.9,33.8,34.7,35.6],
  [34.2,29.8,30.7,31.6,32.5,33.4,34.3,35.2],
  [34.36,29.3,30.2,31.1,32,32.9,33.8,34.7],
  [34.52,29.8,30.7,31.6,32.5,33.4,34.3],
  [34.68,29.3,30.2,31.1,32,32.9,33.8,34.7],
  [34.84,28.9,29.8,30.7,31.6,32.5,33.4],
  [35,28.4,29.3,30.2,31.1,32,32.9],
  [35.16,28.9,29.8,30.7,31.6,32.5],
  [35.32,28.4,29.3,30.2,31.1,32],
  [35.48,28.9,29.8,30.7,31.6],
  [35.64,28,28.9,29.8,30.7],
  [35.8,28.4,29.3,30.2]
];

const yellow = '#ffff00';
const tickFont = { family: '"Liberation Sans", Arial, sans-serif', size: 50, weight: 'bold' };

const fromColumns = cols => cols.flatMap(([temp, ...hums]) => hums.map(h => [temp, h]));

const allPoints = [
  ...outlier, ...leftCloud, ...upperEdge, ...upperRight, ...lowerLeft, ...lowerEdge, ...rightTail,
  ...fromColumns(upperColumns), ...fromColumns(midColumns), ...fromColumns(leftColumns), ...fromColumns(lowerColumns), ...fromColumns(coreColumns)
].map(([x, y]) => ({ x, y }));

// scales otherwise reserve half a label plus tick padding around the plot
const noLabelMargins = s => {
  s.paddingLeft = 0;
  s.paddingRight = 0;
  s.paddingTop = 0;
  s.paddingBottom = 0;
};

new Chart(document.getElementById('chart'), {
  type: 'scatter',
  data: {
    datasets: [{
      data: allPoints,
      clip: false,
      pointRadius: 4.6,
      pointHoverRadius: 4.6,
      pointBackgroundColor: yellow,
      pointBorderWidth: 0
    }]
  },
  options: {
    responsive: false,
    animation: false,
    layout: { autoPadding: false, padding: { top: 26, right: 37, left: 0, bottom: 0 } },
    plugins: { legend: { display: false }, tooltip: { enabled: false } },
    scales: {
      x: {
        type: 'linear',
        min: 10,
        max: 40,
        afterBuildTicks: s => { s.ticks = tempTicks.map(value => ({ value })); },
        afterFit: s => { s.height = 208; noLabelMargins(s); },
        border: { color: yellow, width: 2.5 },
        grid: {
          color: c => (c.tick && c.tick.value === 40 ? yellow : 'transparent'),
          tickColor: yellow,
          lineWidth: c => (c.tick && c.tick.value === 40 ? 2.5 : 1),
          tickWidth: 1,
          tickLength: 18
        },
        ticks: { color: yellow, font: tickFont, padding: 38, maxRotation: 0 },
        title: {
          display: true,
          text: axisTitle,
          color: yellow,
          font: { family: tickFont.family, size: 56.4, weight: 'bold' },
          padding: { top: 26, bottom: -5 }
        }
      },
      y: {
        min: 0,
        max: 100,
        afterBuildTicks: s => { s.ticks = humidityTicks.map(value => ({ value })); },
        afterFit: s => { s.width = 137.5; noLabelMargins(s); },
        border: { color: yellow, width: 2.5 },
        grid: {
          color: yellow,
          lineWidth: c => (c.tick && c.tick.value === 100 ? 2 : 1),
          tickLength: 17
        },
        ticks: { color: yellow, font: tickFont, padding: 26, labelOffset: 5 }
      }
    }
  }
});
</script>
</body>
</html>
